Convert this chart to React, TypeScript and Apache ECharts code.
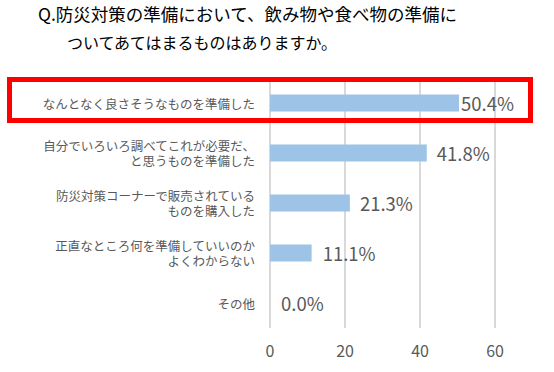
import React, { useEffect, useRef } from "react";
import * as echarts from "echarts";

const titleLine1 = "Q.防災対策の準備において、飲み物や食べ物の準備に";
const titleLine2 = "ついてあてはまるものはありますか。";
const categories = [
  "なんとなく良さそうなものを準備した",
  "自分でいろいろ調べてこれが必要だ、\nと思うものを準備した",
  "防災対策コーナーで販売されている\nものを購入した",
  "正直なところ何を準備していいのか\nよくわからない",
  "その他",
];
const values = [50.4, 41.8, 21.3, 11.1, 0.0];
const labelDistances = [2, 10, 10, 11, 11];
const xTicks = [0, 20, 40, 60];

const FONT = '"Noto Sans CJK JP", "Noto Sans", sans-serif';

export default function App() {
  const ref = useRef<HTMLDivElement>(null);
  useEffect(() => {
    if (!ref.current) return;
    const chart = echarts.init(ref.current, undefined, { renderer: "svg" });
    chart.setOption({
      animation: false,
      backgroundColor: "#ffffff",
      textStyle: { fontFamily: FONT },
      grid: { left: 270, right: 59, top: 78, height: 250, containLabel: false },
      xAxis: {
        type: "value",
        min: xTicks[0],
        max: xTicks[xTicks.length - 1],
        interval: 20,
        axisLine: { show: false },
        axisTick: { show: false },
        splitLine: { show: true, lineStyle: { color: "#d9d9d9", width: 2 } },
        axisLabel: { color: "#595959", fontSize: 16, margin: 14, fontFamily: FONT },
      },
      yAxis: {
        type: "category",
        inverse: true,
        data: categories,
        axisLine: { show: false },
        axisTick: { show: false },
        axisLabel: {
          color: "#595959",
          fontSize: 12.5,
          lineHeight: 15.5,
          margin: 15,
          align: "right",
          fontFamily: FONT,
        },
      },
      series: [
        {
          type: "bar",
          data: values.map((v, i) => ({
            value: v,
            label: { distance: labelDistances[i] },
          })),
          barWidth: 17,
          itemStyle: { color: "#9dc3e6" },
          label: {
            show: true,
            position: "right",
            color: "#595959",
            fontSize: 18.5,
            fontFamily: FONT,
            formatter: (p: any) => p.value.toFixed(1) + "%",
          },
        },
      ],
      graphic: [
        {
          type: "text",
          left: 38,
          top: 5,
          style: { text: titleLine1, fill: "#000000", font: `17.5px ${FONT}` },
        },
        {
          type: "text",
          left: 67,
          top: 34,
          style: { text: titleLine2, fill: "#000000", font: `16px ${FONT}` },
        },
        {
          type: "rect",
          shape: { x: 9.5, y: 79.5, width: 521, height: 41 },
          style: { fill: "none", stroke: "#ff0000", lineWidth: 5 },
          z: 100,
        },
      ],
    });
    return () => chart.dispose();
  }, []);
  return <div ref={ref} style={{ width: 554, height: 372, position: "absolute", left: 0, top: 0 }} />;
}
